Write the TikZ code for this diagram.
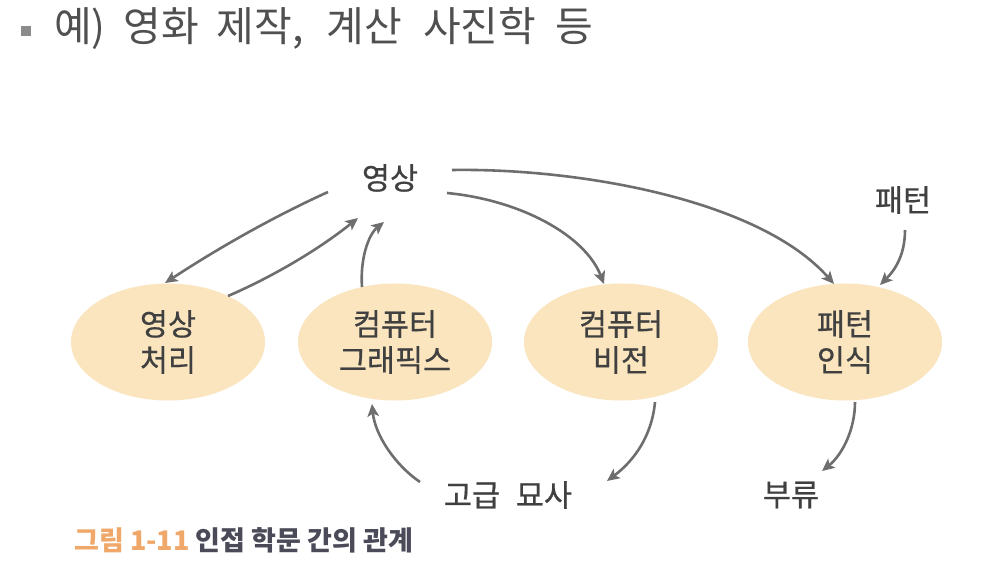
\documentclass[tikz,border=0pt]{standalone}
\usepackage{fontspec}
\newfontfamily\kr{Noto Sans CJK KR}
\newfontfamily\krb[FakeBold=0.6]{Noto Sans CJK KR}
\usetikzlibrary{shapes.geometric,arrows.meta,calc}
\definecolor{txt}{HTML}{404040}
\definecolor{ttl}{HTML}{505050}
\definecolor{arrc}{HTML}{6E6E6E}
\definecolor{tan}{HTML}{FAE5BE}
\definecolor{capor}{HTML}{EFA86A}
\definecolor{capgr}{HTML}{4A4A58}
\tikzset{
  lbl/.style={inner sep=0pt, text=txt, font=\krb\fontsize{30.5}{36}\selectfont, align=center},
  field/.style={ellipse, fill=tan, minimum width=194pt, minimum height=117pt, inner sep=0pt, text=txt, font=\krb\fontsize{30.5}{36}\selectfont, align=center},
  arr/.style={draw=arrc, line width=2.6pt, -{Stealth[length=12.5pt,width=11.5pt,inset=3pt]}}
}
\begin{document}
\begin{tikzpicture}[x=1pt,y=-1pt]
\useasboundingbox[fill=white] (0,0) rectangle (988,588);
% title
\node[fill=arrc!80, minimum size=10pt, inner sep=0pt] (bul) at (26,31) {};
\node[anchor=west, inner sep=0pt, text=ttl, font=\kr\fontsize{41}{46}\selectfont] (title) at (54,28) {예)\hspace{9pt} 영화\hspace{8pt} 제작,\hspace{14pt} 계산\hspace{12pt} 사진학\hspace{10pt} 등};
% nodes
\node[lbl] (img) at (390,178) {영상};
\node[field] (ip) at (168,342) {영상\\처리};
\node[field] (cg) at (395,342) {컴퓨터\\그래픽스};
\node[field] (cv) at (621,342) {컴퓨터\\비전};
\node[field] (pr) at (845,342) {패턴\\인식};
\node[lbl] (pat) at (903,200) {패턴};
\node[lbl] (hl) at (508,495) {고급\hspace{9pt} 묘사};
\node[lbl] (cls) at (791,495) {부류};
\node[anchor=west, inner sep=0pt, font=\kr\bfseries\fontsize{27}{30}\selectfont] (cap) at (74,540) {\textcolor{capor}{그림 1-11} \textcolor{capgr}{인접 학문 간의 관계}};
% connectors
\draw[arr] ($(img)+(-62,14)$) .. controls (275,216) and (220,247) .. ($(ip)+(-3,-59)$);
\draw[arr] ($(ip)+(60,-46)$) .. controls (272,277) and (318,250) .. ($(img)+(-32,40)$);
\draw[arr] ($(cg)+(-33,-55)$) .. controls (360,260) and (368,235) .. ($(img)+(-6,44)$);
\draw[arr] ($(img)+(57,15)$) .. controls (520,200) and (585,235) .. ($(cv)+(-17,-58)$);
\draw[arr] ($(img)+(62,-8)$) .. controls (580,168) and (760,200) .. ($(pr)+(-11,-58)$);
\draw[arr] ($(pat)+(2,30)$) .. controls (905,255) and (895,270) .. ($(pr)+(35,-57)$);
\draw[arr] ($(cv)+(34,60)$) .. controls (652,435) and (635,460) .. ($(hl)+(99,-14)$);
\draw[arr] ($(hl)+(-88,-13)$) .. controls (395,465) and (375,435) .. ($(cg)+(-23,62)$);
\draw[arr] ($(pr)+(10,60)$) .. controls (855,430) and (842,455) .. ($(cls)+(31,-24)$);
\end{tikzpicture}
\end{document}
